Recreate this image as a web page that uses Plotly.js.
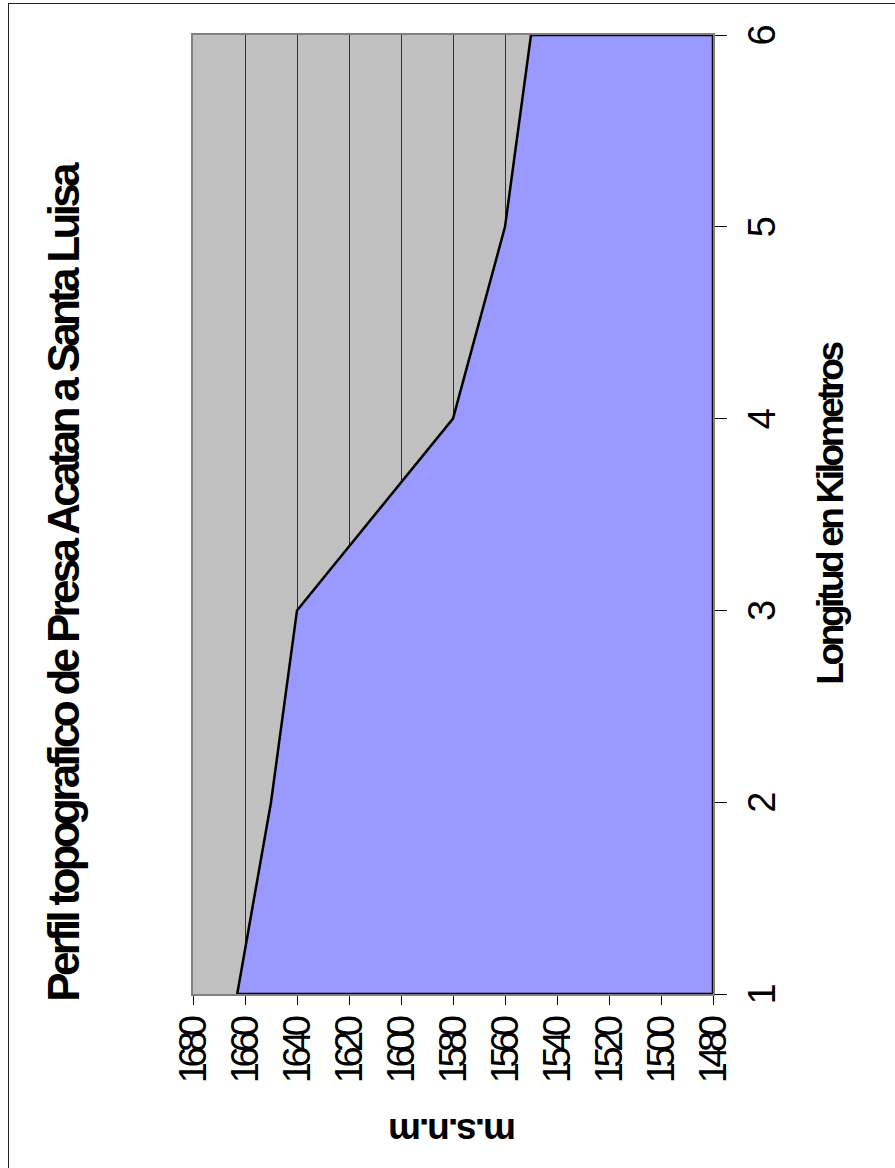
<!DOCTYPE html>
<html>
<head>
<meta charset="utf-8">
<script src="https://cdn.plot.ly/plotly-3.0.1.min.js"></script>
<style>
  html, body { margin: 0; padding: 0; background: #ffffff; overflow: hidden; }
  body { width: 895px; height: 1168px; position: relative; }
  #frame { position: absolute; left: 8px; top: 3px; width: 900px; height: 1200px;
           border-left: 1px solid #222; border-top: 1px solid #222; }
  #chart { position: absolute; left: 0; top: 1168px; width: 1168px; height: 895px;
           transform-origin: 0 0; transform: rotate(-90deg); }
  #chart .ytick text { letter-spacing: -5.5px; }
  #chart .gtitle { letter-spacing: -3.7px; }
  #chart .xtitle { letter-spacing: -3.4px; }
  #chart .ytitle { letter-spacing: -2px; }
</style>
</head>
<body>
<div id="frame"></div>
<div id="chart"></div>
<script>
// Data
const distanciaKm = [1, 2, 3, 4, 5, 6];
const elevacion = [1663, 1650, 1640, 1580, 1560, 1550];
const rangoElev = [1480, 1680];
const tituloGrafico = 'Perfil topografico de Presa Acatan a Santa Luisa';
const tituloX = 'Longitud en Kilometros';
const tituloY = 'm.s.n.m';

// Closed area polygon down to the axis base
const polyX = distanciaKm.concat([distanciaKm[distanciaKm.length - 1], distanciaKm[0], distanciaKm[0]]);
const polyY = elevacion.concat([rangoElev[0], rangoElev[0], elevacion[0]]);

const FONT = 'Liberation Sans, Arial, sans-serif';

const trace = {
  x: polyX,
  y: polyY,
  type: 'scatter',
  mode: 'lines',
  fill: 'toself',
  fillcolor: '#9999ff',
  line: { color: '#000000', width: 2.5 },
  hoverinfo: 'skip',
  showlegend: false
};

const layout = {
  width: 1168,
  height: 895,
  margin: { l: 174, r: 35, t: 193, b: 182 },
  paper_bgcolor: 'rgba(0,0,0,0)',
  plot_bgcolor: '#c0c0c0',
  showlegend: false,
  title: {
    text: tituloGrafico,
    font: { family: FONT, size: 44, color: '#000000', weight: 'bold' },
    xref: 'container', x: 0.5, xanchor: 'center',
    yref: 'container', y: 1 - 64 / 895, yanchor: 'middle'
  },
  xaxis: {
    range: [distanciaKm[0], distanciaKm[distanciaKm.length - 1]],
    tick0: 1, dtick: 1,
    ticks: 'outside', ticklen: 12, tickwidth: 1, tickcolor: '#000000',
    ticklabelstandoff: 2,
    tickfont: { family: FONT, size: 38, color: '#000000' },
    showgrid: false, zeroline: false,
    showline: true, linecolor: '#808080', linewidth: 2, mirror: true,
    layer: 'below traces',
    title: { text: tituloX, standoff: 36,
             font: { family: FONT, size: 37, color: '#000000', weight: 'bold' } }
  },
  yaxis: {
    range: rangoElev,
    tick0: 1480, dtick: 20,
    ticks: 'outside', ticklen: 9, tickwidth: 1, tickcolor: '#000000',
    ticklabelstandoff: 8,
    tickfont: { family: FONT, size: 38, color: '#000000' },
    showgrid: true, gridcolor: '#303030', gridwidth: 1,
    zeroline: false,
    showline: true, linecolor: '#808080', linewidth: 2, mirror: true,
    layer: 'below traces',
    title: { text: tituloY, standoff: 2,
             font: { family: FONT, size: 37, color: '#000000', weight: 'bold' } }
  }
};

Plotly.newPlot('chart', [trace], layout, { displayModeBar: false, staticPlot: true });
</script>
</body>
</html>
